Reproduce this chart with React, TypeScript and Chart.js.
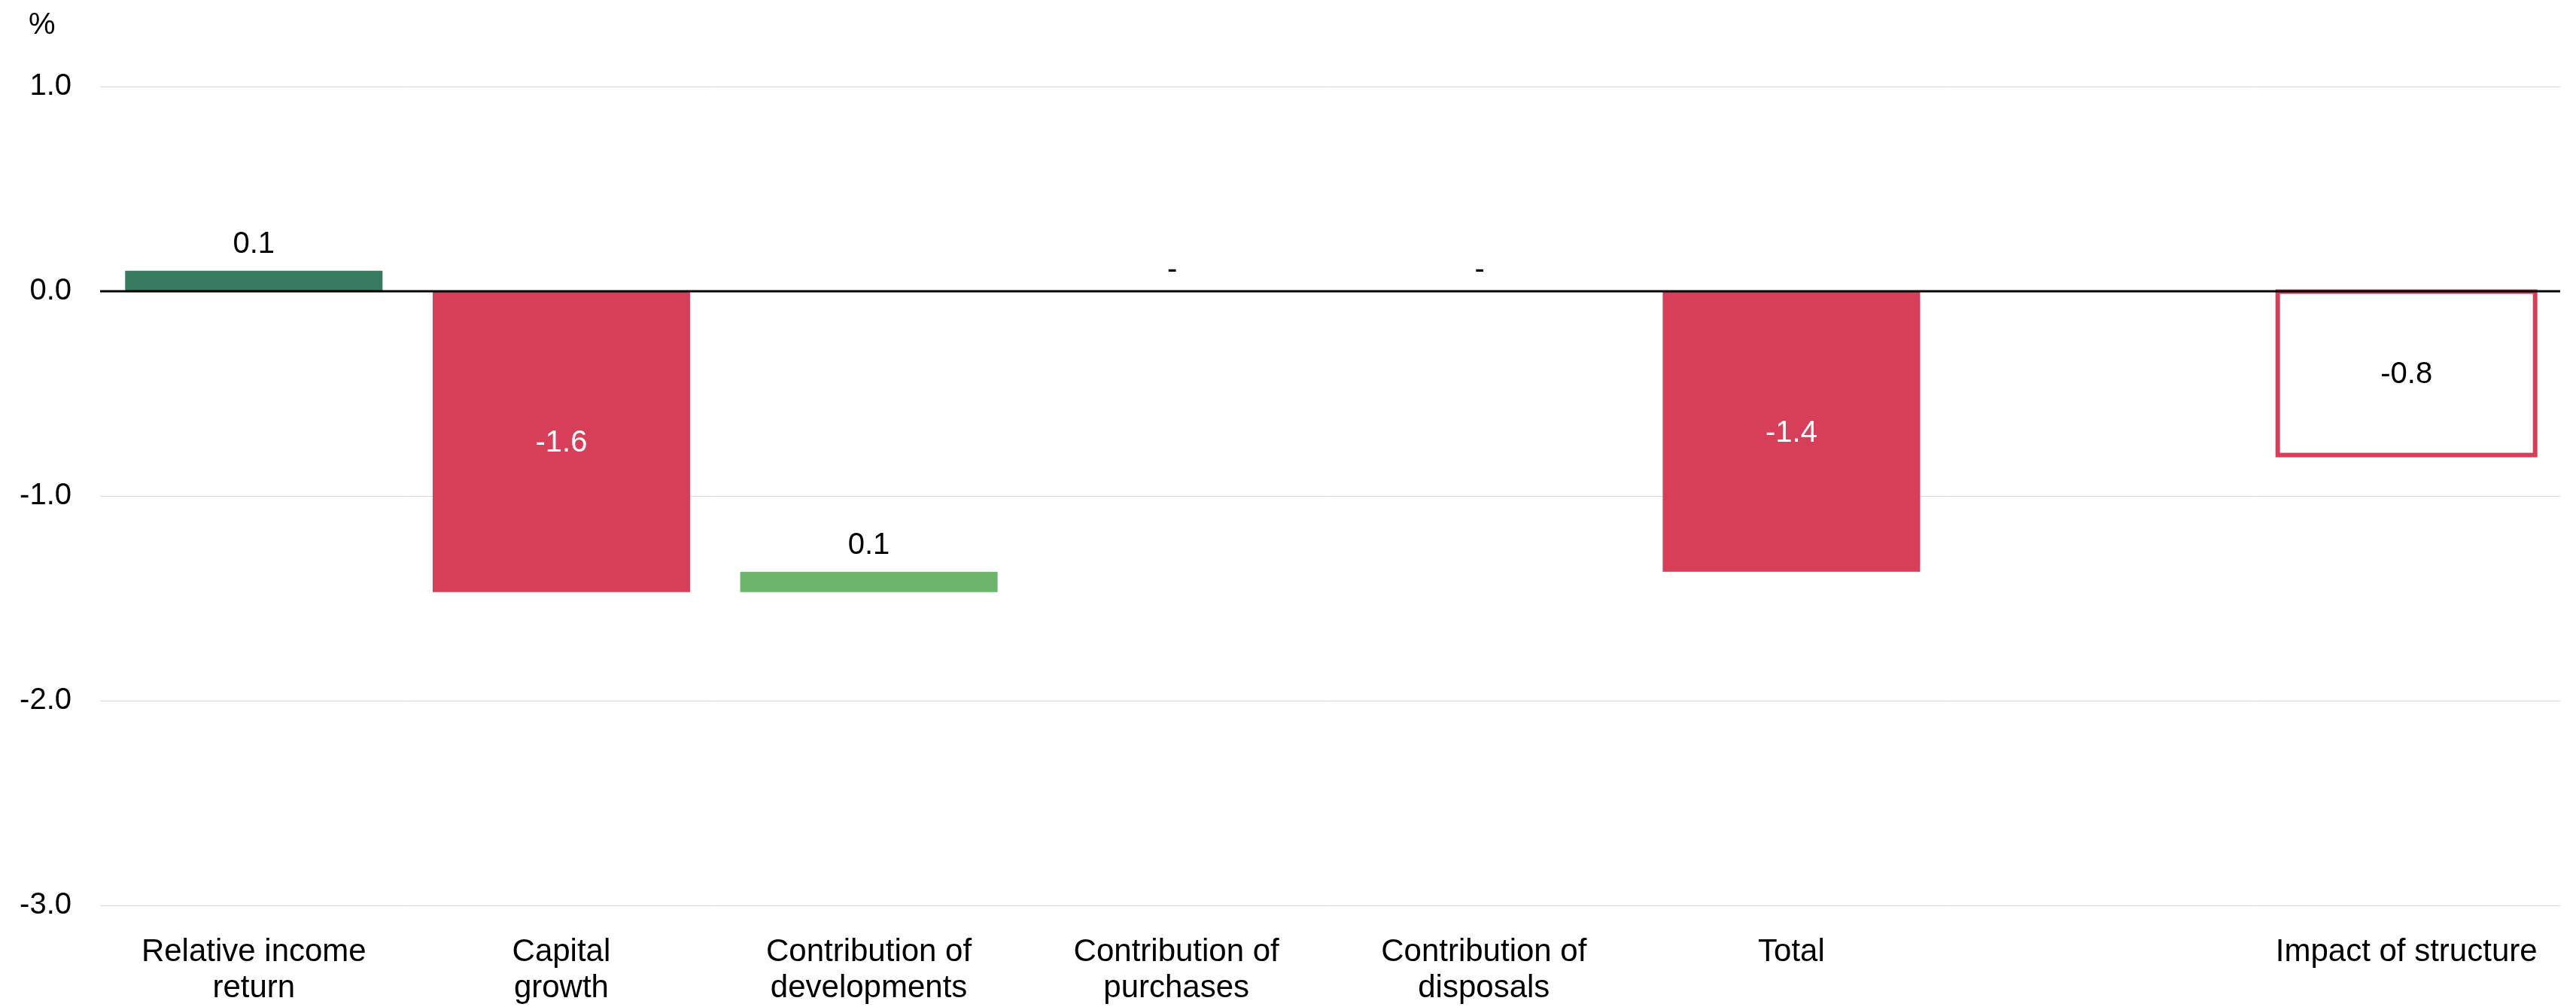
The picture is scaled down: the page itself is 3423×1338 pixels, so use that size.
import React, { useEffect, useRef } from "react";
import { Chart, registerables } from "chart.js";

Chart.register(...registerables);

// Attribution of relative return, percentage points
const categories: (string | string[])[] = [
  ["Relative income", "return"],
  ["Capital", "growth"],
  ["Contribution of", "developments"],
  ["Contribution of", "purchases"],
  ["Contribution of", "disposals"],
  "Total",
  "",
  "Impact of structure",
];

// step contributions that build up the total
const contributions: number[] = [0.1, -1.57, 0.1, 0, 0];
const impactOfStructure = -0.8;

const yTicks = { min: -3, max: 1, step: 1 };
const unitLabel = "%";

const FONT = "'Liberation Sans', Arial, sans-serif";
const DARK_GREEN = "#367b60";
const LIGHT_GREEN = "#6db56d";
const RED = "#d73f58";

// floating bars: each step runs from the running total before it to the one after it;
// a step that crosses zero is drawn from the zero line, as in a stacked waterfall
function buildBars() {
  const bars: ([number, number] | null)[] = [];
  const values: (number | null)[] = [];
  let run = 0;
  contributions.forEach((c) => {
    const start = run;
    const end = run + c;
    const s = (start > 0 && end < 0) || (start < 0 && end > 0) ? 0 : start;
    bars.push(c === 0 ? [0, 0] : [s, end]);
    values.push(c);
    run = end;
  });
  const total = Math.round(run * 100) / 100;
  bars.push([0, total]);
  values.push(total);
  bars.push(null);
  values.push(null);
  bars.push([0, impactOfStructure]);
  values.push(impactOfStructure);
  return { bars, values };
}

export default function App() {
  const canvasRef = useRef<HTMLCanvasElement | null>(null);

  useEffect(() => {
    document.body.style.margin = "0";
    const canvas = canvasRef.current;
    if (!canvas) return;

    const { bars, values } = buildBars();
    const fills = [DARK_GREEN, RED, LIGHT_GREEN, LIGHT_GREEN, LIGHT_GREEN, RED, "rgba(0,0,0,0)", "rgba(0,0,0,0)"];
    const outlined = [false, false, false, false, false, false, false, true];

    const overlay = {
      id: "waterfallOverlay",
      afterDatasetsDraw(chart: any) {
        const { ctx, chartArea, scales } = chart;
        const y = scales.y;
        const meta = chart.getDatasetMeta(0);
        const y0 = y.getPixelForValue(0);

        // outlined bar (border centred on the bar edges)
        meta.data.forEach((el: any, i: number) => {
          if (!outlined[i] || bars[i] == null) return;
          const p = el.getProps(["x", "y", "base", "width"], true);
          const top = Math.min(p.y, p.base);
          const h = Math.abs(p.base - p.y);
          ctx.save();
          ctx.strokeStyle = RED;
          ctx.lineWidth = 6;
          ctx.strokeRect(p.x - p.width / 2, top, p.width, h);
          ctx.restore();
        });

        // zero line on top of the bars
        ctx.save();
        ctx.strokeStyle = "#000";
        ctx.lineWidth = 3;
        ctx.beginPath();
        ctx.moveTo(chartArea.left, y0);
        ctx.lineTo(chartArea.right, y0);
        ctx.stroke();
        ctx.restore();

        // value labels
        ctx.save();
        ctx.font = `40px ${FONT}`;
        ctx.textAlign = "center";
        meta.data.forEach((el: any, i: number) => {
          const v = values[i];
          if (v == null) return;
          const p = el.getProps(["x", "y", "base"], true);
          const top = Math.min(p.y, p.base);
          const bottom = Math.max(p.y, p.base);
          if (v === 0) {
            ctx.fillStyle = "#000";
            ctx.textBaseline = "alphabetic";
            ctx.fillText("- ", p.x, y0 - 17);
          } else if (v > 0) {
            ctx.fillStyle = "#000";
            ctx.textBaseline = "alphabetic";
            ctx.fillText(v.toFixed(1), p.x, top - 24);
          } else {
            ctx.fillStyle = outlined[i] ? "#000" : "#fff";
            ctx.textBaseline = "middle";
            ctx.fillText(v.toFixed(1), p.x, (top + bottom) / 2 + 2);
          }
        });
        ctx.restore();

        // unit label above the value axis
        ctx.save();
        ctx.font = `40px ${FONT}`;
        ctx.fillStyle = "#000";
        ctx.textAlign = "left";
        ctx.textBaseline = "alphabetic";
        ctx.fillText(unitLabel, 38, 45);
        ctx.restore();
      },
    };

    const chart = new Chart(canvas, {
      type: "bar",
      data: {
        labels: categories,
        datasets: [
          {
            data: bars as any,
            backgroundColor: fills,
            borderWidth: 0,
            barPercentage: 0.837,
            categoryPercentage: 1,
          },
        ],
      },
      options: {
        animation: false,
        responsive: false,
        devicePixelRatio: 1,
        layout: { padding: { top: 115, right: 21, bottom: 0, left: 0 } },
        plugins: {
          legend: { display: false },
          tooltip: { enabled: false },
        },
        scales: {
          x: {
            grid: { display: false, drawTicks: false },
            border: { display: false },
            ticks: {
              color: "#000",
              font: { family: FONT, size: 42, lineHeight: 48 / 42 },
              padding: 38.5,
              maxRotation: 0,
              minRotation: 0,
              autoSkip: false,
            },
            afterFit: (scale: any) => {
              scale.height = 135;
            },
          },
          y: {
            min: yTicks.min,
            max: yTicks.max,
            grid: {
              drawTicks: false,
              color: (c: any) => (c.tick && c.tick.value === 0 ? "rgba(0,0,0,0)" : "#d9d9d9"),
              lineWidth: 1,
            },
            border: { display: false },
            ticks: {
              stepSize: yTicks.step,
              color: "#000",
              font: { family: FONT, size: 40 },
              padding: 38,
              callback: (v: any) => Number(v).toFixed(1),
            },
            afterFit: (scale: any) => {
              scale.width = 133;
            },
          },
        },
      },
      plugins: [overlay],
    });

    return () => chart.destroy();
  }, []);

  return (
    <div style={{ width: 3423, height: 1338, background: "#fff" }}>
      <canvas ref={canvasRef} width={3423} height={1338} style={{ display: "block" }} />
    </div>
  );
}
